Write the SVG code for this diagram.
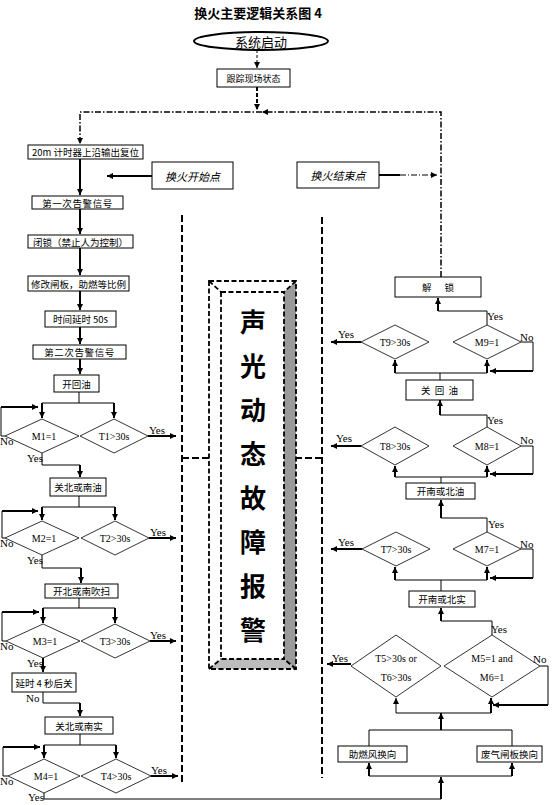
<svg xmlns="http://www.w3.org/2000/svg" width="553" height="805" viewBox="0 0 553 805">
<style>
.bx{fill:#fff;stroke:#000;stroke-width:1}
.dm{fill:#fff;stroke:#000;stroke-width:0.8}
.t{font-family:"Noto Sans CJK SC","Liberation Sans",sans-serif;font-size:9.5px;text-anchor:middle;dominant-baseline:central;fill:#000}
.s{font-family:"Liberation Serif","Noto Sans CJK SC",serif;font-size:11px;fill:#000}
.m{font-family:"Liberation Serif","Noto Sans CJK SC",serif;font-size:10px;text-anchor:middle;dominant-baseline:central;fill:#000}
.c{fill:none;stroke:#000;stroke-width:1}
.k{fill:none;stroke:#000;stroke-width:2}
.dd{fill:none;stroke:#000;stroke-width:2;stroke-dasharray:7,3}
.dt{fill:none;stroke:#000;stroke-width:1.5;stroke-dasharray:6,2,1.5,2}
</style>
<defs>
<marker id="a" viewBox="0 0 8 8" refX="8" refY="4" markerWidth="7" markerHeight="6" markerUnits="userSpaceOnUse" orient="auto"><path d="M0,0 L8,4 L0,8 z" fill="#000"/></marker>
</defs>
<rect width="553" height="805" fill="#fff"/>
<text x="258" y="18" font-family="'Noto Sans CJK SC',sans-serif" font-size="13" font-weight="bold" text-anchor="middle">换火主要逻辑关系图 4</text>

<g id="connectors">
<path class="c" d="M257,50 V68" stroke-dasharray="3,2" marker-end="url(#a)"/>
<path class="k" d="M257,87 V110" stroke-dasharray="4,2" marker-end="url(#a)"/>
<path class="dt" d="M441,277 V112 H262" marker-end="url(#a)"/>
<path class="dt" d="M262,112 H80 V144" marker-end="url(#a)"/>
<path class="k" d="M80,159 V195" marker-end="url(#a)"/>
<path class="k" d="M152,176 H107" marker-end="url(#a)"/>
<path class="k" d="M80,209 V234" marker-end="url(#a)"/>
<path class="k" d="M80,248 V275" marker-end="url(#a)"/>
<path class="k" d="M80,291 V310" marker-end="url(#a)"/>
<path class="k" d="M80,327 V344" marker-end="url(#a)"/>
<path class="k" d="M80,359 V374" marker-end="url(#a)"/>
<!-- branch 1 -->
<path class="c" d="M79,392 V403 M42,403 H114"/>
<path class="k" d="M42,403 V418" marker-end="url(#a)"/>
<path class="k" d="M114,403 V418" marker-end="url(#a)"/>
<path class="c" d="M5,436 H1 V407"/>
<path class="k" d="M1,407 H38" marker-end="url(#a)"/>
<path class="k" d="M148,436 H176" marker-end="url(#a)"/>
<path class="c" d="M42,453 V465 H80"/>
<path class="k" d="M80,465 V477" marker-end="url(#a)"/>
<!-- branch 2 -->
<path class="c" d="M79,496 V507 M42,507 H115"/>
<path class="k" d="M42,507 V520" marker-end="url(#a)"/>
<path class="k" d="M115,507 V520" marker-end="url(#a)"/>
<path class="c" d="M5,538 H2 V511"/>
<path class="k" d="M2,511 H38" marker-end="url(#a)"/>
<path class="k" d="M149,538 H176" marker-end="url(#a)"/>
<path class="c" d="M42,555 V568 H81"/>
<path class="k" d="M81,568 V583" marker-end="url(#a)"/>
<!-- branch 3 -->
<path class="c" d="M79,598 V608 M43,608 H115"/>
<path class="k" d="M43,608 V623" marker-end="url(#a)"/>
<path class="k" d="M115,608 V623" marker-end="url(#a)"/>
<path class="c" d="M6,641 H2 V612"/>
<path class="k" d="M2,612 H39" marker-end="url(#a)"/>
<path class="k" d="M150,641 H176" marker-end="url(#a)"/>
<path class="k" d="M43,658 V672" marker-end="url(#a)"/>
<path class="c" d="M43,692 V703 H80"/>
<path class="k" d="M80,703 V716" marker-end="url(#a)"/>
<!-- branch 4 -->
<path class="c" d="M80,734 V745 M44,745 H116"/>
<path class="k" d="M44,745 V758" marker-end="url(#a)"/>
<path class="k" d="M116,745 V758" marker-end="url(#a)"/>
<path class="c" d="M8,776 H3 V747"/>
<path class="k" d="M3,747 H40" marker-end="url(#a)"/>
<path class="k" d="M151,776 H178" marker-end="url(#a)"/>
<path class="c" d="M44,793 V799 H441"/>
<path class="k" d="M441,799 V777" marker-end="url(#a)"/>
<path class="c" d="M369,776 H512"/>
<path class="k" d="M369,776 V763" marker-end="url(#a)"/>
<path class="k" d="M512,776 V763" marker-end="url(#a)"/>
<path class="c" d="M369,746 V730 H512 V746"/>
<path class="k" d="M441,730 V713" marker-end="url(#a)"/>
<path class="c" d="M396,713 H491"/>
<path class="c" d="M396,713 V698" marker-end="url(#a)"/>
<path class="k" d="M491,713 V698" marker-end="url(#a)"/>
<path class="c" d="M540,666 H548 V705"/>
<path class="k" d="M548,705 H493" marker-end="url(#a)"/>
<path class="k" d="M351,664 H327" marker-end="url(#a)"/>
<path class="c" d="M492,635 V621 H441"/>
<path class="k" d="M441,621 V608" marker-end="url(#a)"/>
<!-- right branch 7 -->
<path class="c" d="M441,591 V580 M395,580 H487"/>
<path class="k" d="M395,580 V567" marker-end="url(#a)"/>
<path class="k" d="M487,580 V567" marker-end="url(#a)"/>
<path class="k" d="M362,549 H331" marker-end="url(#a)"/>
<path class="c" d="M521,549 H533 V578"/>
<path class="k" d="M533,578 H490" marker-end="url(#a)"/>
<path class="c" d="M487,532 V518 H441"/>
<path class="k" d="M441,518 V500" marker-end="url(#a)"/>
<!-- right branch 8 -->
<path class="c" d="M441,483 V477 M395,477 H487"/>
<path class="k" d="M395,477 V466" marker-end="url(#a)"/>
<path class="k" d="M487,477 V466" marker-end="url(#a)"/>
<path class="k" d="M361,446 H331" marker-end="url(#a)"/>
<path class="c" d="M521,446 H533 V474"/>
<path class="k" d="M533,474 H490" marker-end="url(#a)"/>
<path class="c" d="M487,427 V415 H440"/>
<path class="k" d="M440,415 V400" marker-end="url(#a)"/>
<!-- right branch 9 -->
<path class="c" d="M440,380 V373 M395,373 H487"/>
<path class="k" d="M395,373 V360" marker-end="url(#a)"/>
<path class="k" d="M487,373 V360" marker-end="url(#a)"/>
<path class="k" d="M361,342 H331" marker-end="url(#a)"/>
<path class="c" d="M521,342 H533 V371"/>
<path class="k" d="M533,371 H490" marker-end="url(#a)"/>
<path class="c" d="M487,325 V311 H438"/>
<path class="k" d="M438,311 V298" marker-end="url(#a)"/>
<path class="k" d="M379,175 H400"/>
<path class="c" d="M400,175 H437" stroke-dasharray="6,2,1,2" marker-end="url(#a)"/>
<!-- alarm side lines -->
<path class="dd" d="M182,215 V782"/>
<path class="dd" d="M322,217 V778"/>
<path class="dd" d="M182,458 H221" marker-end="url(#a)"/>
<path class="dd" d="M322,458 H288" marker-end="url(#a)"/>
</g>

<g id="start"><ellipse cx="261" cy="41" rx="67" ry="9" fill="#fff" stroke="#000" stroke-width="2"/><text class="t" x="261" y="41" style="font-size:13px">系统启动</text></g>
<g id="track"><rect class="bx" x="217" y="69" width="73" height="18"/><text class="t" x="253.5" y="78" style="font-size:9px">跟踪现场状态</text></g>
<g id="n1"><rect class="bx" x="28" y="145" width="115" height="14"/><text class="t" x="85.5" y="152">20m 计时器上沿输出复位</text></g>
<g id="hstart"><rect class="bx" x="152" y="162" width="81" height="27" stroke-width="2"/><text class="t" x="192.5" y="175.5" font-style="italic" style="font-size:11px">换火开始点</text></g>
<g id="n2"><rect class="bx" x="32" y="196" width="91" height="13"/><text class="t" x="77.5" y="202.5" letter-spacing="0.6">第一次告警信号</text></g>
<g id="n3"><rect class="bx" x="28" y="235" width="105" height="13"/><text class="t" x="80.5" y="241.5">闭锁（禁止人为控制）</text></g>
<g id="n4"><rect class="bx" x="28" y="276" width="101" height="15"/><text class="t" x="78.5" y="283.5">修改闸板，助燃等比例</text></g>
<g id="n5"><rect class="bx" x="45" y="311" width="71" height="16"/><text class="t" x="80.5" y="319">时间延时 50s</text></g>
<g id="n6"><rect class="bx" x="33" y="345" width="93" height="14"/><text class="t" x="79.5" y="352" letter-spacing="0.6">第二次告警信号</text></g>
<g id="n7"><rect class="bx" x="54" y="375" width="45" height="17"/><text class="t" x="76.5" y="383.5">开回油</text></g>
<g id="d1"><polygon class="dm" points="42,419 79,436 42,453 5,436"/><text class="m" x="44" y="436">M1=1</text></g>
<g id="d2"><polygon class="dm" points="114,419 148,436 114,453 80,436"/><text class="m" x="114" y="436">T1&gt;30s</text></g>
<g id="n8"><rect class="bx" x="50" y="478" width="56" height="18"/><text class="t" x="78" y="487">关北或南油</text></g>
<g id="d3"><polygon class="dm" points="42,521 79,538 42,555 5,538"/><text class="m" x="44" y="538">M2=1</text></g>
<g id="d4"><polygon class="dm" points="115,521 149,538 115,555 81,538"/><text class="m" x="115" y="538">T2&gt;30s</text></g>
<g id="n9"><rect class="bx" x="45" y="584" width="73" height="14"/><text class="t" x="81.5" y="591">开北或南吹扫</text></g>
<g id="d5"><polygon class="dm" points="43,624 80,641 43,658 6,641"/><text class="m" x="45" y="641">M3=1</text></g>
<g id="d6"><polygon class="dm" points="115,624 150,641 115,658 81,641"/><text class="m" x="115" y="641">T3&gt;30s</text></g>
<g id="n10"><rect class="bx" x="12" y="673" width="64" height="19"/><text class="t" x="44" y="682.5">延时 4 秒后关</text></g>
<g id="n11"><rect class="bx" x="45" y="717" width="68" height="17"/><text class="t" x="79" y="725.5">关北或南实</text></g>
<g id="d7"><polygon class="dm" points="44,759 80,776 44,793 8,776"/><text class="m" x="46" y="776">M4=1</text></g>
<g id="d8"><polygon class="dm" points="116,759 151,776 116,793 81,776"/><text class="m" x="116" y="776">T4&gt;30s</text></g>

<g id="labels-left">
<text class="s" x="0" y="445">No</text><text class="s" x="27" y="462">Yes</text><text class="s" x="149" y="434">Yes</text>
<text class="s" x="0" y="547">No</text><text class="s" x="27" y="564">Yes</text><text class="s" x="150" y="536">Yes</text>
<text class="s" x="0" y="650">No</text><text class="s" x="27" y="667">Yes</text><text class="s" x="150" y="639">Yes</text>
<text class="s" x="26" y="702">No</text>
<text class="s" x="0" y="785">No</text><text class="s" x="28" y="801">Yes</text><text class="s" x="151" y="774">Yes</text>
</g>

<g id="alarm">
<rect x="209" y="281" width="87" height="388" fill="#fff"/>
<polygon points="296,281 296,669 284,659 284,292" fill="#9a9a9a"/>
<polygon points="209,669 296,669 284,659 221,659" fill="#bdbdbd"/>
<g fill="none" stroke="#000" stroke-width="1.8" stroke-dasharray="5,2.5">
<rect x="209" y="281" width="87" height="388"/>
<rect x="221" y="292" width="63" height="367"/>
<path d="M209,281 L221,292 M296,281 L284,292 M209,669 L221,659 M296,669 L284,659"/>
</g>
<g font-family="'Noto Sans CJK SC',sans-serif" font-size="26" font-weight="bold" text-anchor="middle" dominant-baseline="central">
<text x="253" y="320">声</text><text x="253" y="364">光</text><text x="253" y="408">动</text><text x="253" y="452">态</text>
<text x="253" y="496">故</text><text x="253" y="540">障</text><text x="253" y="584">报</text><text x="253" y="628">警</text>
</g>
</g>

<g id="hend"><rect class="bx" x="297" y="162" width="82" height="26" stroke-width="2"/><text class="t" x="338" y="175" font-style="italic" style="font-size:11px">换火结束点</text></g>
<g id="unlock"><rect class="bx" x="395" y="277" width="86" height="20"/><text class="t" x="438" y="287" xml:space="preserve">解      锁</text></g>
<g id="d9"><polygon class="dm" points="395,325 429,342 395,359 361,342"/><text class="m" x="395" y="342">T9&gt;30s</text></g>
<g id="d10"><polygon class="dm" points="487,325 521,342 487,359 453,342"/><text class="m" x="487" y="342">M9=1</text></g>
<g id="n12"><rect class="bx" x="406" y="380" width="67" height="20"/><text class="t" x="439.5" y="390" xml:space="preserve">关  回  油</text></g>
<g id="d11"><polygon class="dm" points="395,427 429,446 395,465 361,446"/><text class="m" x="395" y="446">T8&gt;30s</text></g>
<g id="d12"><polygon class="dm" points="487,427 521,446 487,465 453,446"/><text class="m" x="487" y="446">M8=1</text></g>
<g id="n13"><rect class="bx" x="406" y="483" width="69" height="16"/><text class="t" x="440.5" y="491">开南或北油</text></g>
<g id="d13"><polygon class="dm" points="396,532 430,549 396,566 362,549"/><text class="m" x="396" y="549">T7&gt;30s</text></g>
<g id="d14"><polygon class="dm" points="487,532 521,549 487,566 453,549"/><text class="m" x="487" y="549">M7=1</text></g>
<g id="n14"><rect class="bx" x="409" y="591" width="66" height="16"/><text class="t" x="442" y="599">开南或北实</text></g>
<g id="d15"><polygon class="dm" points="396,635 441,666 396,697 351,666"/><text class="m" x="396" y="658">T5&gt;30s or</text><text class="m" x="396" y="677">T6&gt;30s</text></g>
<g id="d16"><polygon class="dm" points="492,635 540,666 492,697 444,666"/><text class="m" x="492" y="658">M5=1 and</text><text class="m" x="492" y="677">M6=1</text></g>
<g id="n15"><rect class="bx" x="338" y="746" width="69" height="16"/><text class="t" x="372.5" y="754">助燃风换向</text></g>
<g id="n16"><rect class="bx" x="477" y="746" width="65" height="16"/><text class="t" x="509.5" y="754">废气闸板换向</text></g>

<g id="labels-right">
<text class="s" x="338" y="338">Yes</text><text class="s" x="520" y="341">No</text><text class="s" x="487" y="320">Yes</text>
<text class="s" x="336" y="442">Yes</text><text class="s" x="520" y="444">No</text><text class="s" x="487" y="424">Yes</text>
<text class="s" x="338" y="546">Yes</text><text class="s" x="520" y="548">No</text><text class="s" x="488" y="528">Yes</text>
<text class="s" x="332" y="662">Yes</text><text class="s" x="533" y="663">No</text><text class="s" x="491" y="633">Yes</text>
</g>
</svg>
